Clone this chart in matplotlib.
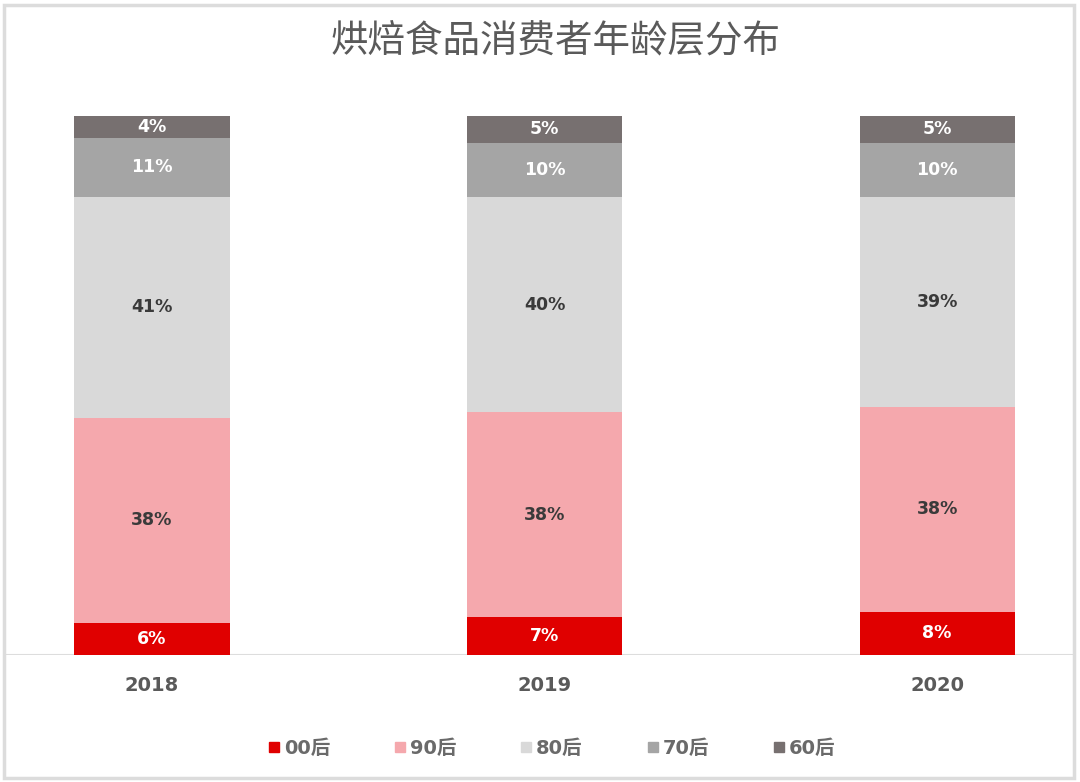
import matplotlib.pyplot as plt
from matplotlib.lines import Line2D
from matplotlib.patches import Rectangle

# 烘焙食品消费者年龄层分布 - stacked share by age group
years = ['2018', '2019', '2020']
groups = ['00后', '90后', '80后', '70后', '60后']
share_00 = [6, 7, 8]
share_90 = [38, 38, 38]
share_80 = [41, 40, 39]
share_70 = [11, 10, 10]
share_60 = [4, 5, 5]

series = [share_00, share_90, share_80, share_70, share_60]
colors = ['#E00000', '#F5A8AD', '#D9D9D9', '#A5A5A5', '#777070']
text_colors = ['white', '#3A3A3A', '#3A3A3A', 'white', 'white']

plt.rcParams['font.family'] = ['DejaVu Sans', 'Noto Sans CJK SC']

fig = plt.figure(figsize=(10.8, 7.82), dpi=100)
fig.patch.set_facecolor('white')

# axes placed so the bars land where they are in the picture
ax = fig.add_axes([4 / 1080, 1 - 655 / 782, 1069 / 1080, (655 - 116) / 782])
x = list(range(len(years)))
bottom = [0] * len(years)
for vals, c, tc in zip(series, colors, text_colors):
    ax.bar(x, vals, width=0.395, bottom=bottom, color=c, edgecolor='none')
    for xi, b, v in zip(x, bottom, vals):
        ax.text(xi, b + v / 2, f'{v}%', ha='center', va='center',
                fontsize=12.5, fontweight='bold', color=tc)
    bottom = [b + v for b, v in zip(bottom, vals)]

ax.set_xlim(-0.377, 2.346)
ax.set_ylim(0, 100)
ax.axhline(0, color='#DDDDDD', lw=1.5, zorder=0)
for s in ax.spines.values():
    s.set_visible(False)
ax.set_yticks([])
ax.set_xticks(x)
ax.set_xticklabels(years, fontsize=14, fontweight='bold', color='#5A5A5A')
ax.tick_params(axis='x', length=0, pad=15)

fig.text(0.514, 1 - 42 / 782, '烘焙食品消费者年龄层分布', ha='center', va='center',
         fontsize=27, color='#5A5A5A', family=['Noto Sans CJK SC', 'DejaVu Sans'])

handles = [Line2D([], [], marker='s', ls='none', markersize=7, color=c) for c in colors]
leg = fig.legend(handles, groups, loc='center', bbox_to_anchor=(0.51, 1 - 748 / 782),
                 ncol=5, frameon=False, handletextpad=0.1, columnspacing=3.2,
                 handlelength=0.8, prop={'size': 14, 'weight': 'bold'})
for t in leg.get_texts():
    t.set_color('#6A6A6A')

# light frame around the picture
fig.patches.append(Rectangle((4 / 1080, 4 / 782), 1070 / 1080, 773 / 782,
                             transform=fig.transFigure, fill=False,
                             edgecolor='#DCDCDC', lw=2.5))

fig.savefig('out.png', dpi=100)
